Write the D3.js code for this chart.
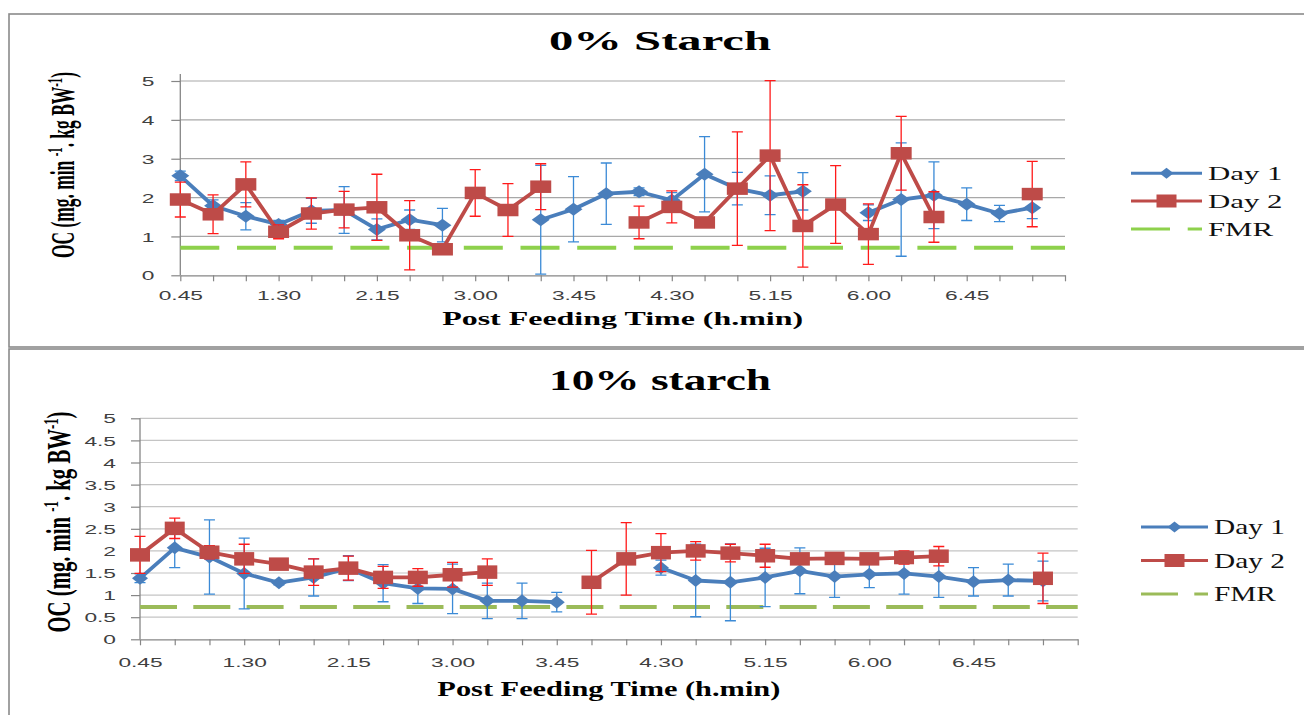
<!DOCTYPE html>
<html>
<head>
<meta charset="utf-8">
<script src="https://cdn.jsdelivr.net/npm/d3@7"></script>
<style>
  body { margin: 0; background: #fff; }
  svg { display: block; }
</style>
</head>
<body>
<div id="chart"></div>
<script>
// categories (post feeding time, 15 min steps) - last slot is empty on the axis
var times = ["0.45", "1.00", "1.15", "1.30", "1.45", "2.00", "2.15", "2.30", "2.45", "3.00",
    "3.15", "3.30", "3.45", "4.00", "4.15", "4.30", "4.45", "5.00", "5.15", "5.30",
    "5.45", "6.00", "6.15", "6.30", "6.45", "7.00", "7.15", ""];
var labelEvery = 3;

var titles = ["0% Starch", "10% starch"];
var xTitle = "Post Feeding Time (h.min)";
var seriesNames = ["Day 1", "Day 2", "FMR"];

// 0% starch
var day1Top = [2.56, 1.79, 1.52, 1.31, 1.66, 1.68, 1.18, 1.43, 1.29, null, null, 1.43, 1.70, 2.10,
    2.15, 1.93, 2.60, 2.23, 2.06, 2.16, null, 1.61, 1.95, 2.06, 1.83, 1.59, 1.74, null];
var day1TopErr = [0.12, 0.15, 0.35, 0.1, 0.32, 0.6, 0.27, 0.25, 0.43, null, null, 1.4, 0.84, 0.79,
    0.1, 0.2, 0.97, 0.42, 0.5, 0.48, null, 0.2, 1.46, 0.86, 0.42, 0.21, 0.28, null];
var day2Top = [1.95, 1.57, 2.34, 1.12, 1.59, 1.69, 1.75, 1.03, 0.67, 2.12, 1.68, 2.28, null, null,
    1.36, 1.76, 1.36, 2.23, 3.08, 1.27, 1.82, 1.06, 3.14, 1.50, null, null, 2.09, null];
var day2TopErr = [0.45, 0.5, 0.58, 0.18, 0.4, 0.47, 0.85, 0.89, 0.05, 0.6, 0.68, 0.59, null, null,
    0.42, 0.41, 0.05, 1.46, 1.93, 1.06, 1.0, 0.78, 0.95, 0.65, null, null, 0.84, null];
var fmrTop = 0.71;
var yTicksTop = [0, 1, 2, 3, 4, 5];

// 10% starch
var day1Bot = [1.38, 2.07, 1.86, 1.49, 1.28, 1.40, 1.61, 1.27, 1.15, 1.14, 0.87, 0.87, 0.84, null,
    null, 1.62, 1.33, 1.29, 1.40, 1.55, 1.42, 1.47, 1.49, 1.42, 1.30, 1.34, 1.32, null];
var day1BotErr = [0.1, 0.45, 0.84, 0.8, 0.05, 0.42, 0.28, 0.42, 0.34, 0.56, 0.4, 0.4, 0.22, null,
    null, 0.17, 0.82, 0.87, 0.66, 0.52, 0.47, 0.3, 0.47, 0.47, 0.32, 0.36, 0.45, null];
var day2Bot = [1.91, 2.51, 1.97, 1.82, 1.70, 1.52, 1.61, 1.40, 1.40, 1.46, 1.52, null, null, 1.29,
    1.82, 1.96, 2.00, 1.95, 1.89, 1.82, 1.83, 1.82, 1.85, 1.88, null, null, 1.38, null];
var day2BotErr = [0.42, 0.23, 0.15, 0.33, 0.03, 0.3, 0.27, 0.25, 0.2, 0.28, 0.3, null, null, 0.72,
    0.82, 0.43, 0.21, 0.2, 0.26, 0.1, 0.05, 0.1, 0.15, 0.22, null, null, 0.57, null];
var fmrBot = 0.73;
var yTicksBot = [0, 0.5, 1, 1.5, 2, 2.5, 3, 3.5, 4, 4.5, 5];

var svgWidth = 1304, svgHeight = 715;
var blue = "#4a7ebb", blueErr = "#3b8ad6", red = "#be4b48", redErr = "#ff1a1a";
var axisColor = "#868686";

var svg = d3.select("#chart").append("svg")
    .attr("width", svgWidth)
    .attr("height", svgHeight);

var panels = [
    {
        title: titles[0], d1: day1Top, e1: day1TopErr, d2: day2Top, e2: day2TopErr,
        fmr: fmrTop, yTicks: yTicksTop,
        box: [9, 14, 1310, 333],
        left: 180.3, right: 1065, top: 81, bottom: 275.3, axisTop: 74,
        grid: "#a8a8a8", green: "#8ed14c", dash: "39,17.7",
        titleY: 50, titleFs: 27, titleW: 222,
        yTitle: [74, 165], yTitleFs: 33, yTitleW: 186,
        xTitleY: 324.5, xTitleFs: 18.5, xTitleW: 361,
        tickY: 300, yLabOff: 26,
        diamond: [18, 13], square: [21, 12.5],
        leg: {x1: 1131, x2: 1202, ys: [173.3, 201, 229], tx: 1208, fs: 19.5, sx: 1.58}
    },
    {
        title: titles[1], d1: day1Bot, e1: day1BotErr, d2: day2Bot, e2: day2BotErr,
        fmr: fmrBot, yTicks: yTicksBot,
        box: [9, 349, 1310, 400],
        left: 140, right: 1077.7, top: 418.3, bottom: 639.3, axisTop: 418.3,
        grid: "#c4c4c4", green: "#9bbb59", dash: "37,16.3",
        titleY: 390, titleFs: 29.5, titleW: 222,
        yTitle: [70, 522], yTitleFs: 33, yTitleW: 221,
        xTitleY: 696, xTitleFs: 21, xTitleW: 343,
        tickY: 667, yLabOff: 24,
        diamond: [16, 13], square: [20, 13.5],
        leg: {x1: 1141, x2: 1208, ys: [527, 560.5, 594], tx: 1214, fs: 20.5, sx: 1.43}
    }
];

function fit(sel, w) {
    return sel.attr("textLength", w).attr("lengthAdjust", "spacingAndGlyphs");
}

function diamondPath(cx, cy, w, h) {
    return `M ${cx},${cy - h / 2} L ${cx + w / 2},${cy} L ${cx},${cy + h / 2} L ${cx - w / 2},${cy} Z`;
}

function drawPanel(p) {
    var g = svg.append("g");

    g.append("rect")
        .attr("x", p.box[0]).attr("y", p.box[1])
        .attr("width", p.box[2]).attr("height", p.box[3])
        .attr("fill", "#fff")
        .attr("stroke", "#8a8a8a")
        .attr("stroke-width", 1.6);

    var x = d3.scalePoint()
        .domain(d3.range(times.length))
        .range([p.left, p.right]);

    var y = d3.scaleLinear()
        .domain([0, 5])
        .range([p.bottom, p.top]);

    // gridlines
    g.append("g").selectAll("line")
        .data(p.yTicks.filter(d => d > 0))
        .enter().append("line")
        .attr("x1", p.left).attr("x2", p.right)
        .attr("y1", d => y(d)).attr("y2", d => y(d))
        .attr("stroke", p.grid)
        .attr("stroke-width", 1.2);

    // y axis
    var yAxis = g.append("g")
        .attr("transform", `translate(${p.left},0)`)
        .call(d3.axisLeft(y).tickValues(p.yTicks).tickSize(9).tickSizeOuter(0).tickFormat(d3.format("")));
    yAxis.select(".domain").remove();
    yAxis.selectAll(".tick line").attr("stroke", axisColor).attr("stroke-width", 1.2);
    yAxis.selectAll("text")
        .attr("x", -p.yLabOff / 1.75)
        .attr("dy", "0.36em")
        .attr("transform", "scale(1.75,1)")
        .attr("fill", "#404040")
        .attr("font-family", "Liberation Sans, Arial, sans-serif")
        .attr("font-size", 13);
    g.append("line")
        .attr("x1", p.left).attr("x2", p.left)
        .attr("y1", p.axisTop).attr("y2", p.bottom)
        .attr("stroke", axisColor).attr("stroke-width", 1.3);

    // x axis
    var xAxis = g.append("g")
        .attr("transform", `translate(0,${p.bottom})`)
        .call(d3.axisBottom(x).tickSize(6).tickSizeOuter(0)
            .tickFormat(d => (d % labelEvery === 0 ? times[d] : "")));
    xAxis.select(".domain").attr("stroke", axisColor).attr("stroke-width", 1.3);
    xAxis.selectAll(".tick line").attr("stroke", axisColor).attr("stroke-width", 1.2);
    xAxis.selectAll("text")
        .attr("y", p.tickY - p.bottom)
        .attr("dy", 0)
        .attr("transform", "scale(1.75,1)")
        .attr("fill", "#404040")
        .attr("font-family", "Liberation Sans, Arial, sans-serif")
        .attr("font-size", 13);

    // FMR reference line
    g.append("line")
        .attr("x1", x(0)).attr("x2", x(times.length - 1))
        .attr("y1", y(p.fmr)).attr("y2", y(p.fmr))
        .attr("stroke", p.green)
        .attr("stroke-width", 4)
        .attr("stroke-dasharray", p.dash);

    var line = d3.line()
        .defined(d => d != null)
        .x((d, i) => x(i))
        .y(d => y(d));

    function series(vals, errs, color, errColor, kind) {
        var idx = d3.range(vals.length).filter(i => vals[i] != null);

        g.append("path")
            .datum(vals)
            .attr("fill", "none")
            .attr("stroke", color)
            .attr("stroke-width", 3.8)
            .attr("stroke-linejoin", "round")
            .attr("d", line);

        var eb = g.append("g")
            .attr("stroke", errColor)
            .attr("stroke-width", 1.3);
        idx.filter(i => errs[i]).forEach(function (i) {
            var hi = y(vals[i] + errs[i]), lo = y(vals[i] - errs[i]), cx = x(i);
            eb.append("path")
                .attr("d", `M ${cx},${hi} L ${cx},${lo} M ${cx - 5.5},${hi} L ${cx + 5.5},${hi} M ${cx - 5.5},${lo} L ${cx + 5.5},${lo}`);
        });

        var mk = g.append("g").attr("fill", color);
        if (kind === "diamond") {
            mk.selectAll("path").data(idx).enter().append("path")
                .attr("d", i => diamondPath(x(i), y(vals[i]), p.diamond[0], p.diamond[1]));
        } else {
            mk.selectAll("rect").data(idx).enter().append("rect")
                .attr("x", i => x(i) - p.square[0] / 2)
                .attr("y", i => y(vals[i]) - p.square[1] / 2)
                .attr("width", p.square[0])
                .attr("height", p.square[1]);
        }
    }

    series(p.d1, p.e1, blue, blueErr, "diamond");
    series(p.d2, p.e2, red, redErr, "square");

    // titles
    fit(g.append("text")
        .attr("x", 660).attr("y", p.titleY)
        .attr("text-anchor", "middle")
        .attr("font-family", "Liberation Serif, Times New Roman, serif")
        .attr("font-weight", "bold")
        .attr("font-size", p.titleFs)
        .text(p.title), p.titleW);

    fit(g.append("text")
        .attr("x", (p.left + p.right) / 2).attr("y", p.xTitleY)
        .attr("text-anchor", "middle")
        .attr("font-family", "Liberation Serif, Times New Roman, serif")
        .attr("font-weight", "bold")
        .attr("font-size", p.xTitleFs)
        .text(xTitle), p.xTitleW);

    var yt = g.append("text")
        .attr("transform", `translate(${p.yTitle[0]},${p.yTitle[1]}) rotate(-90)`)
        .attr("text-anchor", "middle")
        .attr("font-family", "Liberation Serif, Times New Roman, serif")
        .attr("font-weight", "bold")
        .attr("font-size", p.yTitleFs);
    yt.append("tspan").text("OC (mg. min ");
    yt.append("tspan").attr("dy", -p.yTitleFs * 0.35).attr("font-size", p.yTitleFs * 0.62).text("-1");
    yt.append("tspan").attr("dy", p.yTitleFs * 0.35).text(". kg BW");
    yt.append("tspan").attr("dy", -p.yTitleFs * 0.35).attr("font-size", p.yTitleFs * 0.62).text("-1");
    yt.append("tspan").attr("dy", p.yTitleFs * 0.35).text(")");
    fit(yt, p.yTitleW);

    // legend
    var L = p.leg;
    var lg = g.append("g");
    var mid = (L.x1 + L.x2) / 2;
    lg.append("line").attr("x1", L.x1).attr("x2", L.x2).attr("y1", L.ys[0]).attr("y2", L.ys[0])
        .attr("stroke", blue).attr("stroke-width", 3);
    lg.append("path").attr("d", diamondPath(mid, L.ys[0], 14, 11)).attr("fill", blue);
    lg.append("line").attr("x1", L.x1).attr("x2", L.x2).attr("y1", L.ys[1]).attr("y2", L.ys[1])
        .attr("stroke", red).attr("stroke-width", 3);
    lg.append("rect").attr("x", mid - 10).attr("y", L.ys[1] - 6.5).attr("width", 20).attr("height", 13)
        .attr("fill", red);
    lg.append("line").attr("x1", L.x1).attr("x2", L.x2).attr("y1", L.ys[2]).attr("y2", L.ys[2])
        .attr("stroke", p.green).attr("stroke-width", 3).attr("stroke-dasharray", p.dash);

    lg.selectAll("text").data(seriesNames).enter().append("text")
        .attr("transform", (d, i) => `translate(${L.tx},${L.ys[i] + 7}) scale(${L.sx},1)`)
        .attr("font-family", "Liberation Serif, Times New Roman, serif")
        .attr("font-size", L.fs)
        .attr("fill", "#111")
        .text(d => d);
}

panels.forEach(drawPanel);
</script>
</body>
</html>
